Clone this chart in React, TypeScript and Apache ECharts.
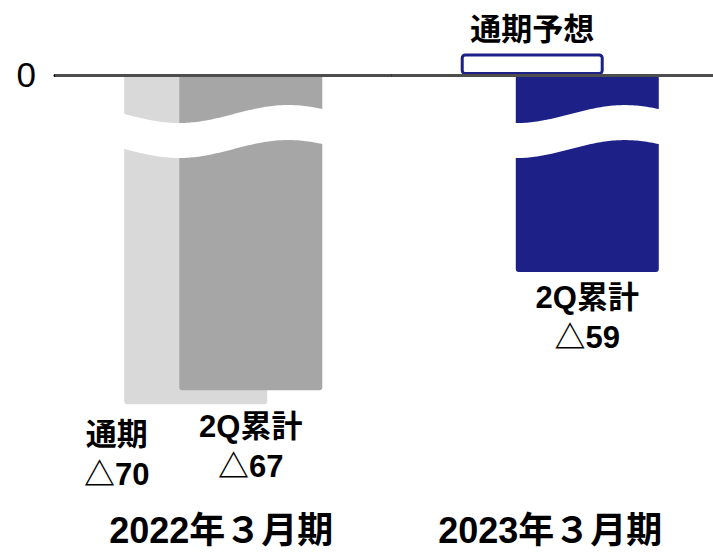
import React, { useEffect, useRef } from "react";
import * as echarts from "echarts";

// ---- data ----
const categories2022 = ["2022年３月期"];
const categories2023 = ["2023年３月期"];
const fullYearName2022 = "通期";
const q2Name = "2Q累計";
const forecastName2023 = "通期予想";
const fullYear2022 = [-70];
const q2Cumulative2022 = [-67];
const forecast2023 = [6.5];
const q2Cumulative2023 = [-59];
const yTickLabels = ["0"];

const FONT = "'Liberation Sans', 'Noto Sans CJK JP', sans-serif";

export default function App() {
  const ref = useRef<HTMLDivElement>(null);

  useEffect(() => {
    document.body.style.margin = "0";
    if (!ref.current) return;
    const chart = echarts.init(ref.current, undefined, { renderer: "svg" });

    const labelBase = {
      show: true,
      fontSize: 31,
      fontWeight: "bold" as const,
      lineHeight: 40,
      color: "#000",
      fontFamily: FONT,
    };

    const waveRender = (params: any, api: any) => {
      const [cx, y0] = api.coord([api.value(0), 0]);
      const left = cx - 101;
      const right = cx + 101;
      const xt = cx - 44;
      const P = 218;
      const A = 9;
      const top = y0 + 39;
      const thick = 35;
      const xs: number[] = [];
      for (let x = left; x < right; x += 2) xs.push(x);
      xs.push(right);
      const up = xs.map((x) => [x, top + A * Math.cos((2 * Math.PI * (x - xt)) / P)]);
      const low = xs
        .slice()
        .reverse()
        .map((x) => [x, top + thick + A * Math.cos((2 * Math.PI * (x - xt)) / P)]);
      return {
        type: "polygon",
        shape: { points: up.concat(low) },
        style: { fill: "#ffffff" },
        z2: 10,
      };
    };

    const zeroLine = {
      silent: true,
      symbol: "none",
      data: [{ yAxis: 0 }],
      lineStyle: { color: "#4d4d4d", width: 3, type: "solid" },
      label: { show: false },
    };

    const xAxisBase = {
      type: "category" as const,
      axisLine: { show: true, lineStyle: { color: "#000", width: 3 } },
      axisTick: { show: false },
      axisLabel: {
        fontSize: 36,
        fontWeight: "bold" as const,
        color: "#000",
        fontFamily: FONT,
        margin: 23,
      },
    };

    chart.setOption({
      animation: false,
      grid: [
        { left: 55, top: 37.36, width: 336.5, bottom: 63, outerBoundsMode: "none", containLabel: false },
        { left: 391.5, top: 37.36, width: 336.5, bottom: 63, outerBoundsMode: "none", containLabel: false },
      ],
      xAxis: [
        {
          ...xAxisBase,
          gridIndex: 0,
          data: categories2022,
          axisLabel: { ...xAxisBase.axisLabel, padding: [0, 4, 0, 0] },
        },
        {
          ...xAxisBase,
          gridIndex: 1,
          data: categories2023,
          axisLabel: { ...xAxisBase.axisLabel, padding: [0, 19, 0, 0] },
        },
      ],
      yAxis: [
        {
          type: "value",
          gridIndex: 0,
          min: -88,
          max: 8,
          interval: 8,
          axisLine: { show: false },
          axisTick: { show: false },
          splitLine: { show: false },
          axisLabel: {
            formatter: (v: number) => (v === 0 ? yTickLabels[0] : ""),
            fontSize: 35,
            color: "#000",
            fontFamily: FONT,
            margin: 19,
          },
        },
        {
          type: "value",
          gridIndex: 1,
          min: -124,
          max: 11.3,
          show: false,
          axisLine: { show: false },
          axisTick: { show: false },
          splitLine: { show: false },
          axisLabel: { show: false },
        },
      ],
      series: [
        {
          type: "bar",
          name: fullYearName2022,
          xAxisIndex: 0,
          yAxisIndex: 0,
          data: fullYear2022,
          barWidth: 143,
          barGap: "-61.5%",
          itemStyle: { color: "#d9d9d9", borderRadius: 3 },
          label: {
            ...labelBase,
            position: "bottom",
            distance: 10,
            offset: [-79, 0],
            formatter: (p: any) => `${fullYearName2022}\n△${Math.abs(p.value)}`,
          },
        },
        {
          type: "bar",
          name: q2Name,
          xAxisIndex: 0,
          yAxisIndex: 0,
          data: q2Cumulative2022,
          barWidth: 143,
          barGap: "-61.5%",
          itemStyle: { color: "#a6a6a6", borderRadius: 3 },
          label: {
            ...labelBase,
            position: "bottom",
            distance: 16,
            formatter: (p: any) => `${q2Name}\n△${Math.abs(p.value)}`,
          },
          markLine: zeroLine,
        },
        {
          type: "custom",
          xAxisIndex: 0,
          yAxisIndex: 0,
          data: [[0]],
          renderItem: waveRender,
          silent: true,
          z: 5,
        },
        {
          type: "bar",
          name: forecastName2023,
          xAxisIndex: 1,
          yAxisIndex: 1,
          data: forecast2023,
          barWidth: 143,
          barGap: "-61.5%",
          itemStyle: {
            color: "#ffffff",
            borderColor: "#1d2087",
            borderWidth: 3,
            borderRadius: 3,
          },
          label: {
            ...labelBase,
            position: "top",
            distance: 4,
            formatter: () => forecastName2023,
          },
        },
        {
          type: "bar",
          name: q2Name,
          xAxisIndex: 1,
          yAxisIndex: 1,
          data: q2Cumulative2023,
          barWidth: 143,
          barGap: "-61.5%",
          itemStyle: { color: "#1d2087", borderRadius: 3 },
          label: {
            ...labelBase,
            position: "bottom",
            distance: 5,
            formatter: (p: any) => `${q2Name}\n△${Math.abs(p.value)}`,
          },
          markLine: zeroLine,
        },
        {
          type: "custom",
          xAxisIndex: 1,
          yAxisIndex: 1,
          data: [[0]],
          renderItem: waveRender,
          silent: true,
          z: 5,
        },
      ],
    });

    return () => chart.dispose();
  }, []);

  return <div ref={ref} style={{ width: 713, height: 552 }} />;
}
